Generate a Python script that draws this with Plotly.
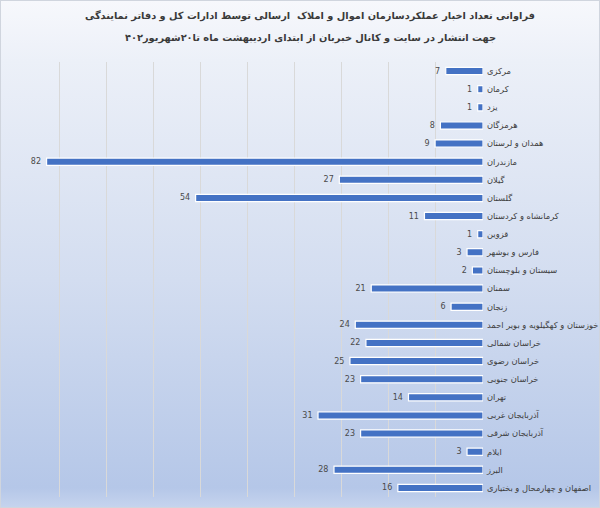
import base64
import plotly.graph_objects as go

categories = [
    "مرکزی", "کرمان", "یزد", "هرمزگان", "همدان و لرستان", "مازندران", "گیلان",
    "گلستان", "کرمانشاه و کردستان", "قزوین", "فارس و بوشهر", "سیستان و بلوچستان",
    "سمنان", "زنجان", "خوزستان و کهگیلویه و بویر احمد", "خراسان شمالی",
    "خراسان رضوی", "خراسان جنوبی", "تهران", "آذربایجان غربی", "آذربایجان شرقی",
    "ایلام", "البرز", "اصفهان و چهارمحال و بختیاری",
]
values = [7, 1, 1, 8, 9, 82, 27, 54, 11, 1, 3, 2, 21, 6, 24, 22, 25, 23, 14, 31, 23, 3, 28, 16]

title_line1 = "فراوانی تعداد اخبار عملکردسازمان اموال و املاک  ارسالی توسط ادارات کل و دفاتر نمایندگی"
title_line2 = "جهت انتشار در سایت و کانال خبربان از ابتدای اردیبهشت ماه تا۲۰شهریور۴۰۲"

FONT = "DejaVu Sans"
TXT = "#404040"

# plot area in pixels
L, R, T, B = 12, 483, 62, 497
PW, PH = R - L, B - T

svg = (
    '<svg xmlns="http://www.w3.org/2000/svg" width="600" height="508" preserveAspectRatio="none">'
    '<defs><linearGradient id="g" x1="0" y1="0" x2="0" y2="1">'
    '<stop offset="0" stop-color="#F7F8FC"/>'
    '<stop offset="0.12" stop-color="#ECF0F8"/>'
    '<stop offset="0.55" stop-color="#D3DDF0"/>'
    '<stop offset="0.96" stop-color="#B5C7E8"/>'
    '<stop offset="1" stop-color="#C6D4EE"/>'
    '</linearGradient></defs>'
    '<rect x="0" y="0" width="600" height="508" fill="url(#g)" stroke="#D0D5DE" stroke-width="2"/>'
    '</svg>'
)
src = "data:image/svg+xml;base64," + base64.b64encode(svg.encode()).decode()

fig = go.Figure(
    go.Bar(
        x=values,
        y=categories,
        orientation="h",
        marker=dict(color="#4472C4", line=dict(color="white", width=1.2)),
        text=[str(v) + "\u00a0" for v in values],
        textposition="outside",
        constraintext="none",
        textfont=dict(family=FONT, size=8, color="#4A4A4A"),
        cliponaxis=False,
    )
)

def px_to_paper_x(px):
    return (px - L) / PW

def px_to_paper_y(py):
    return (B - py) / PH

fig.update_layout(
    width=600,
    height=508,
    margin=dict(l=L, r=600 - R, t=T, b=508 - B, autoexpand=False),
    paper_bgcolor="rgba(0,0,0,0)",
    plot_bgcolor="rgba(0,0,0,0)",
    bargap=0.6,
    showlegend=False,
    images=[dict(source=src, xref="paper", yref="paper",
                 x=px_to_paper_x(0), y=px_to_paper_y(0),
                 sizex=600 / PW, sizey=508 / PH, sizing="stretch",
                 xanchor="left", yanchor="top", layer="below")],
    annotations=[
        dict(text="<b>" + title_line1 + "</b>", xref="paper", yref="paper",
             x=px_to_paper_x(310), y=px_to_paper_y(16), xanchor="center", yanchor="middle",
             showarrow=False, font=dict(family=FONT, size=9.8, color="#3A3A3A")),
        dict(text="<b>" + title_line2 + "</b>", xref="paper", yref="paper",
             x=px_to_paper_x(310), y=px_to_paper_y(38), xanchor="center", yanchor="middle",
             showarrow=False, font=dict(family=FONT, size=9.8, color="#3A3A3A")),
    ],
    xaxis=dict(
        range=[88.5, 0], dtick=8.85, tick0=0, showticklabels=False,
        showgrid=True, gridcolor="#D9D9D9", gridwidth=1, zeroline=False,
        showline=False, fixedrange=True, automargin=False,
    ),
    yaxis=dict(
        side="right", autorange="reversed", showgrid=False, showline=False,
        ticks="", ticklabelstandoff=3, automargin=False,
        tickfont=dict(family=FONT, size=8.3, color=TXT),
    ),
    font=dict(family=FONT, color=TXT),
)

fig.write_html("out.html")
